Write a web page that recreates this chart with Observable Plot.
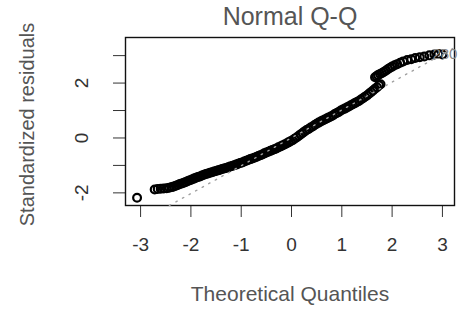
<!DOCTYPE html>
<html>
<head>
<meta charset="utf-8">
<style>
html, body { margin: 0; padding: 0; background: #fff; }
#chart { width: 471px; height: 313px; }
</style>
<script src="https://cdn.jsdelivr.net/npm/d3@7"></script>
<script src="https://cdn.jsdelivr.net/npm/@observablehq/plot@0.6"></script>
</head>
<body>
<div id="chart"></div>
<script>
// ---- Data ----
const title = "Normal Q-Q";
const xTitle = "Theoretical Quantiles";
const yTitle = "Standardized residuals";

const xTicks = [-3, -2, -1, 0, 1, 2, 3];
const yTicks = [-2, -1, 0, 1, 2, 3];
const yTickLabels = [-2, 0, 2];

const xDomain = [-3.30, 3.24];
const yDomain = [-2.46, 3.66];

// theoretical quantiles (x) and standardized residuals (y), as read along the plotted band
const theoretical = [
  -3.07, -2.72, -2.66, -2.60, -2.54, -2.48, -2.43, -2.38, -2.34,
  -2.30, -2.26, -2.22, -2.18, -2.14, -2.10, -2.06, -2.02, -1.98, -1.94,
  -1.90, -1.86, -1.82, -1.78, -1.74, -1.70, -1.66, -1.62, -1.58, -1.54,
  -1.50, -1.46, -1.42, -1.38, -1.34, -1.30, -1.26, -1.22, -1.18, -1.14,
  -1.10, -1.06, -1.02, -0.98, -0.94, -0.90, -0.86, -0.82, -0.78, -0.74,
  -0.70, -0.66, -0.62, -0.58, -0.54, -0.50, -0.46, -0.42, -0.38, -0.34,
  -0.30, -0.26, -0.22, -0.18, -0.14, -0.10, -0.06, -0.02, 0.02, 0.06,
  0.10, 0.14, 0.18, 0.22, 0.26, 0.30, 0.34, 0.38, 0.42, 0.46,
  0.50, 0.54, 0.58, 0.62, 0.66, 0.70, 0.74, 0.78, 0.82, 0.86,
  0.90, 0.94, 0.98, 1.02, 1.06, 1.10, 1.14, 1.18, 1.22, 1.26,
  1.30, 1.34, 1.38, 1.42, 1.46, 1.50, 1.54, 1.58, 1.62, 1.66,
  1.70, 1.74, 1.77,
  1.66, 1.69, 1.72, 1.76, 1.80, 1.84, 1.88, 1.92, 1.96, 2.00,
  2.05, 2.10, 2.16, 2.22, 2.30, 2.38, 2.46, 2.55, 2.64, 2.74,
  2.84, 2.92, 3.00
];
const residuals = [
  -2.18, -1.88, -1.86, -1.85, -1.84, -1.83, -1.81, -1.79, -1.77,
  -1.74, -1.71, -1.68, -1.66, -1.63, -1.60, -1.57, -1.54, -1.51, -1.48,
  -1.45, -1.42, -1.40, -1.37, -1.34, -1.31, -1.29, -1.27, -1.25, -1.22,
  -1.20, -1.18, -1.16, -1.13, -1.11, -1.09, -1.07, -1.04, -1.02, -0.99,
  -0.97, -0.94, -0.91, -0.89, -0.86, -0.83, -0.80, -0.77, -0.75, -0.72,
  -0.69, -0.66, -0.63, -0.60, -0.56, -0.53, -0.50, -0.47, -0.44, -0.41,
  -0.38, -0.34, -0.31, -0.27, -0.24, -0.20, -0.16, -0.12, -0.08, -0.03,
  0.02, 0.07, 0.13, 0.18, 0.24, 0.29, 0.33, 0.38, 0.42, 0.47,
  0.52, 0.56, 0.60, 0.64, 0.67, 0.71, 0.75, 0.78, 0.82, 0.87,
  0.91, 0.95, 1.00, 1.04, 1.07, 1.11, 1.15, 1.19, 1.23, 1.27,
  1.31, 1.35, 1.40, 1.45, 1.50, 1.55, 1.61, 1.67, 1.73, 1.79,
  1.85, 1.92, 1.96,
  2.21, 2.25, 2.29, 2.33, 2.37, 2.41, 2.46, 2.51, 2.56, 2.60,
  2.65, 2.69, 2.74, 2.79, 2.84, 2.87, 2.91, 2.94, 2.97, 3.01,
  3.04, 3.06, 3.04
];

// reference (qq) line
const lineSlope = 1.015;
const lineIntercept = 0.005;

// labelled extreme observation
const outlierIds = ["280"];
const outlierX = [3.00];
const outlierY = [3.04];

// ---- Build tables ----
const points = theoretical.map((x, i) => ({x, y: residuals[i]}));
const lx0 = Math.max(xDomain[0], (yDomain[0] - lineIntercept) / lineSlope);
const lx1 = Math.min(xDomain[1], (yDomain[1] - lineIntercept) / lineSlope);
const refLine = [lx0, lx1].map(x => ({x, y: lineIntercept + lineSlope * x}));
const outliers = outlierIds.map((id, i) => ({id, x: outlierX[i], y: outlierY[i]}));

const FONT = "'Liberation Sans', Arial, Helvetica, sans-serif";

const chart = Plot.plot({
  width: 471,
  height: 313,
  marginLeft: 125,
  marginRight: 17,
  marginTop: 37,
  marginBottom: 108,
  style: {fontFamily: FONT, fontSize: "19px", color: "#333", background: "#fff", overflow: "visible"},
  x: {domain: xDomain, ticks: xTicks, tickSize: 12, tickPadding: 20, tickFormat: d => String(d), label: null},
  y: {domain: yDomain, ticks: yTicks, tickSize: 12, tickFormat: () => "", label: null},
  marks: [
    Plot.frame({stroke: "#111", strokeWidth: 1.4}),
    Plot.dot(points, {x: "x", y: "y", r: 3.9, stroke: "#000", strokeWidth: 2.2, fill: "none"}),
    Plot.line(refLine, {x: "x", y: "y", stroke: "#a0a0a0", strokeWidth: 1.4, strokeDasharray: "1.5,6"}),
    Plot.text(outliers, {x: "x", y: "y", text: "id", textAnchor: "end", lineAnchor: "middle", dx: 15, fill: "#888", fontSize: 15}),
    Plot.text(yTickLabels, {y: d => d, text: d => String(d), frameAnchor: "left", dx: -44, rotate: -90, lineAnchor: "middle", textAnchor: "middle", fontSize: 19, fill: "#333"}),
    Plot.text([title], {frameAnchor: "top", dy: -21, lineAnchor: "middle", textAnchor: "middle", fontSize: 25, fill: "#555", ariaLabel: "title"}),
    Plot.text([xTitle], {frameAnchor: "bottom", dy: 89, lineAnchor: "middle", textAnchor: "middle", fontSize: 21, fill: "#555", ariaLabel: "xtitle"}),
    Plot.text([yTitle], {frameAnchor: "left", dx: -98, dy: 3, rotate: -90, lineAnchor: "middle", textAnchor: "middle", fontSize: 20, fill: "#555", ariaLabel: "ytitle"})
  ]
});

d3.select(chart).selectAll('g[aria-label="title"] text').attr("letter-spacing", "1.3px");
d3.select(chart).selectAll('g[aria-label="xtitle"] text').attr("letter-spacing", "1.1px");
document.getElementById("chart").appendChild(chart);
</script>
</body>
</html>
